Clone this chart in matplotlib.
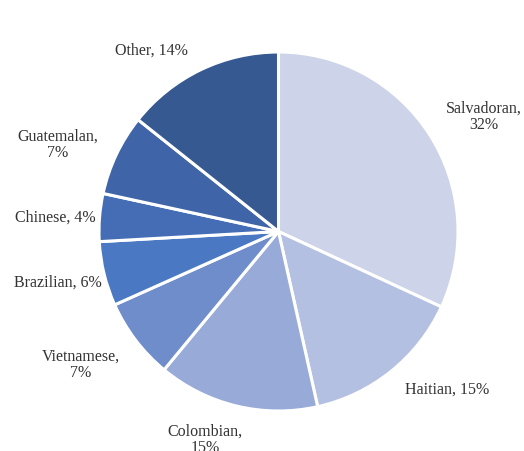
import matplotlib
matplotlib.use("Agg")
import matplotlib.pyplot as plt

categories = ["Salvadoran", "Haitian", "Colombian", "Vietnamese", "Brazilian", "Chinese", "Guatemalan", "Other"]
values = [31.9, 14.6, 14.5, 7.3, 5.8, 4.3, 7.3, 14.3]
label_texts = ["Salvadoran,\n32%", "Haitian, 15%", "Colombian,\n15%", "Vietnamese,\n7%",
               "Brazilian, 6%", "Chinese, 4%", "Guatemalan,\n7%", "Other, 14%"]
colors = ["#CDD3E9", "#B4C0E1", "#98AAD7", "#6F8DCB", "#4A78C2", "#446DB5", "#3F64A8", "#365992"]

W, H = 524, 451
fig = plt.figure(figsize=(W / 100, H / 100), dpi=100)
ax = fig.add_axes([0, 0, 1, 1])

cx, cy, r = 278.5, H - 231.5, 179.5
ax.pie(values, colors=colors, startangle=90, counterclock=False, center=(cx, cy), radius=r,
       wedgeprops=dict(edgecolor="white", linewidth=2.2), frame=True)
ax.set_xlim(0, W)
ax.set_ylim(0, H)
ax.set_aspect("equal")
ax.axis("off")

# label positions (pixel coords from top-left)
label_pos = [(484, 117), (447, 390), (205, 440), (81, 365), (58, 283), (55, 218), (58, 145), (151, 51)]
for txt, (x, y) in zip(label_texts, label_pos):
    ax.text(x, H - y, txt, ha="center", va="center", fontsize=11.5, family="Liberation Serif",
            color="#333333", linespacing=1.05)

fig.savefig("out.png", dpi=100)
